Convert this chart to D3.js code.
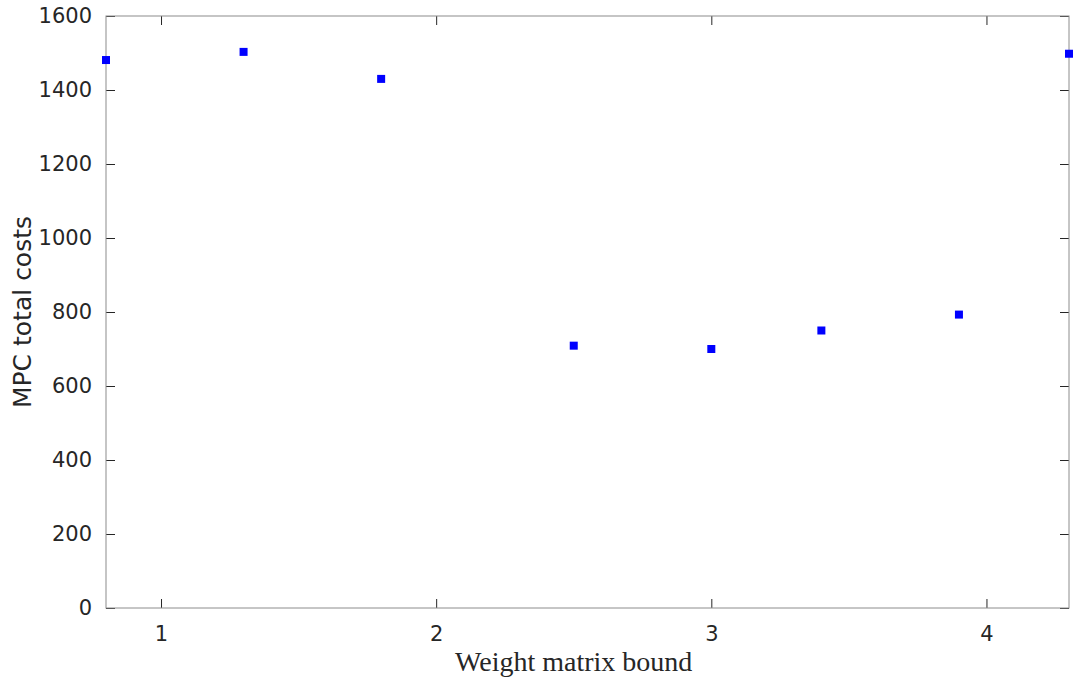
<!DOCTYPE html>
<html><head><meta charset="utf-8">
<script src="https://cdn.jsdelivr.net/npm/d3@7"></script>
<style>body{margin:0;background:#fff}</style>
</head><body><svg></svg>
<script>
'use strict';
// data
var bounds = [0.8, 1.3, 1.8, 2.5, 3.0, 3.4, 3.9, 4.3];
var costs = [1481, 1503, 1430, 709, 700, 750, 793, 1498];
var xTicks = [1, 2, 3, 4];
var yTicks = [0, 200, 400, 600, 800, 1000, 1200, 1400, 1600];

var margin = {top: 16, right: 9, bottom: 71, left: 106};
var canvasWidth = 1078, canvasHeight = 679;
var width = canvasWidth - margin.left - margin.right;
var height = canvasHeight - margin.top - margin.bottom;
var svg = d3.select('svg').attr('width', canvasWidth).attr('height', canvasHeight);
var g = svg.append('g').attr('transform', 'translate(' + margin.left + ',' + margin.top + ')');

var xScale = d3.scaleLinear().domain([0.8, 4.3]).range([0, width]);
var yScale = d3.scaleLinear().domain([0, 1600]).range([height, 0]);

function styleAxis(sel) {
    sel.select('.domain').remove();
    sel.selectAll('line').attr('stroke', '#262626');
    sel.selectAll('text').attr('font-family', 'DejaVu Sans, sans-serif')
        .attr('font-size', 21).attr('fill', '#262626');
}
// bottom/left with labels, ticks pointing inward
g.append('g').attr('transform', 'translate(0,' + height + ')')
    .call(d3.axisBottom(xScale).tickValues(xTicks).tickSizeInner(-9).tickPadding(18).tickFormat(d3.format('d')))
    .call(styleAxis);
g.append('g')
    .call(d3.axisLeft(yScale).tickValues(yTicks).tickSizeInner(-9).tickPadding(14).tickFormat(d3.format('d')))
    .call(styleAxis);
g.append('g').call(d3.axisTop(xScale).tickValues(xTicks).tickSizeInner(-9).tickFormat(''))
    .call(styleAxis);
g.append('g').attr('transform', 'translate(' + width + ',0)')
    .call(d3.axisRight(yScale).tickValues(yTicks).tickSizeInner(-9).tickFormat(''))
    .call(styleAxis);

g.append('rect').attr('width', width).attr('height', height)
    .attr('fill', 'none').attr('stroke', '#8c8c8c').attr('stroke-width', 1);

g.selectAll('rect.pt').data(bounds).enter().append('rect').attr('class', 'pt')
    .attr('x', function (d) { return xScale(d) - 4; })
    .attr('y', function (d, i) { return yScale(costs[i]) - 4; })
    .attr('width', 8).attr('height', 8).attr('fill', '#0000ff');

svg.append('text').attr('x', margin.left + xScale(2.5)).attr('y', 671)
    .attr('text-anchor', 'middle').attr('font-family', 'Liberation Serif, serif')
    .attr('font-size', 28).attr('fill', '#262626').text('Weight matrix bound');
svg.append('text').attr('transform', 'translate(31,' + (margin.top + height / 2) + ') rotate(-90)')
    .attr('text-anchor', 'middle').attr('font-family', 'DejaVu Sans, sans-serif')
    .attr('font-size', 25).attr('fill', '#262626').text('MPC total costs');
</script>
</body></html>
